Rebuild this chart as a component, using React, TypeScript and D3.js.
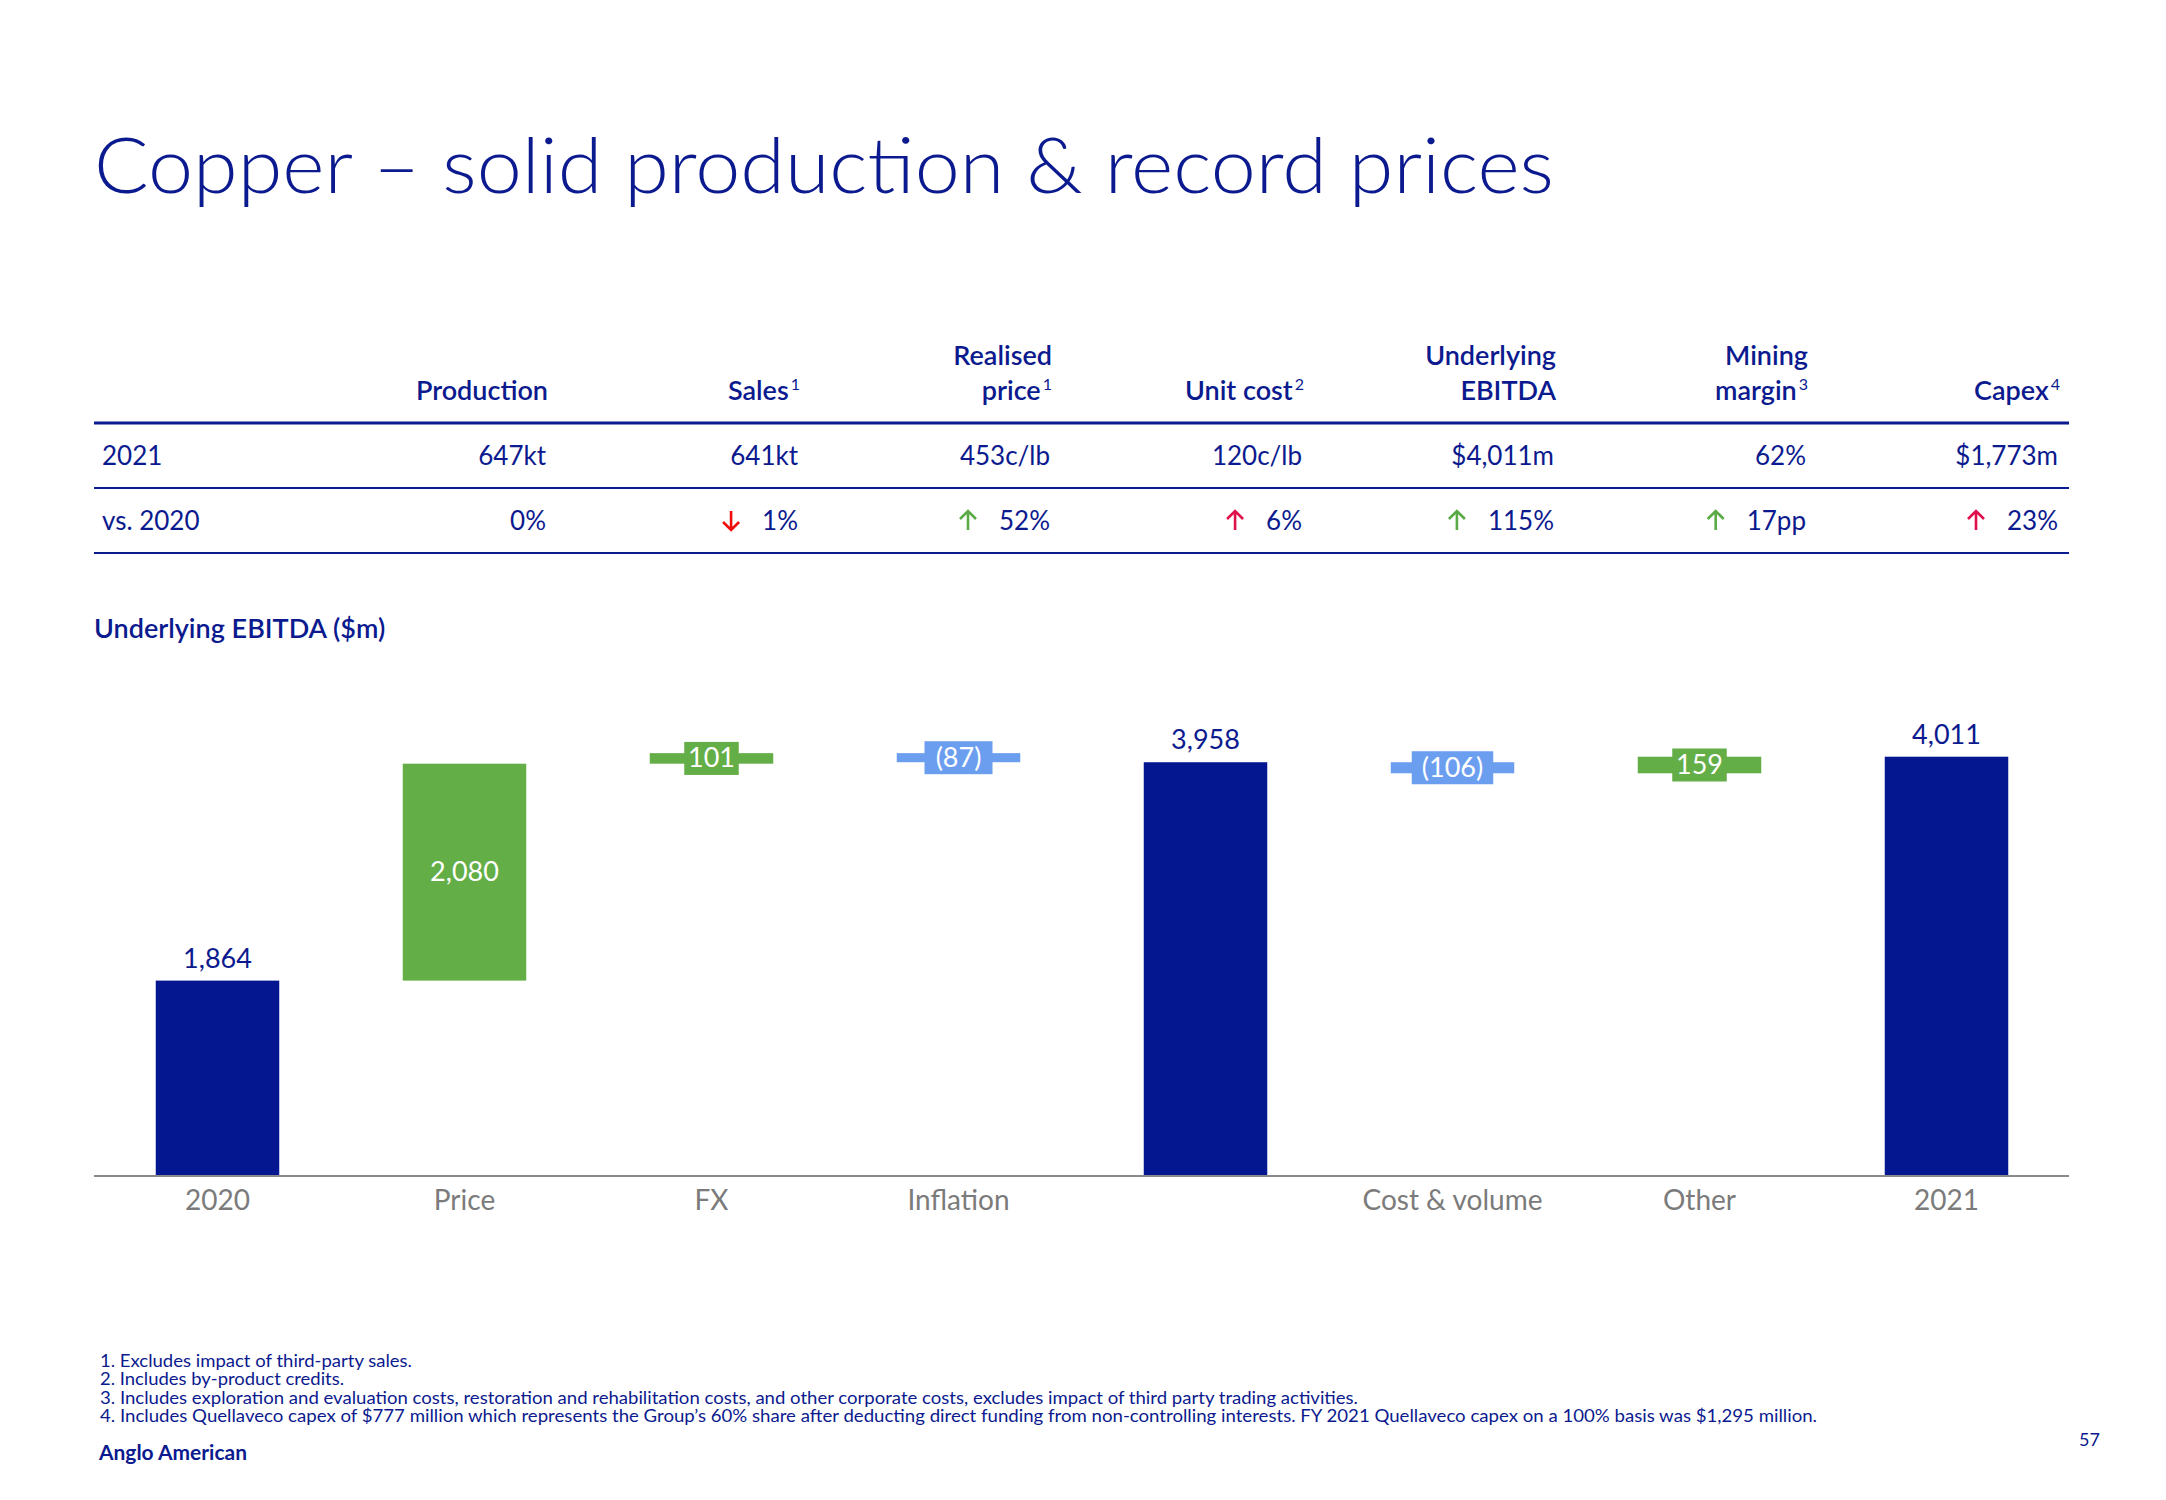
import React, { useLayoutEffect, useRef, useState } from "react";
import * as d3 from "d3";

// ---------- Data ----------
const categories = ["2020", "Price", "FX", "Inflation", "", "Cost & volume", "Other", "2021"];
const values = [1864, 2080, 101, -87, 3958, -106, 159, 4011];
const isTotal = [true, false, false, false, true, false, false, true];

const headerLine1 = ["", "", "Realised", "", "Underlying", "Mining", ""];
const headerLine2 = ["Production", "Sales", "price", "Unit cost", "EBITDA", "margin", "Capex"];
const headerNotes = ["", "1", "1", "2", "", "3", "4"];
const row2021 = ["647kt", "641kt", "453c/lb", "120c/lb", "$4,011m", "62%", "$1,773m"];
const rowVs2020 = ["0%", "1%", "52%", "6%", "115%", "17pp", "23%"];
const rowVsArrow = ["", "down", "up", "up", "up", "up", "up"];
const rowVsTone = ["", "red", "green", "crimson", "green", "green", "crimson"];

const footnotes = [
  "1. Excludes impact of third-party sales.",
  "2. Includes by-product credits.",
  "3. Includes exploration and evaluation costs, restoration and rehabilitation costs, and other corporate costs, excludes impact of third party trading activities.",
  "4. Includes Quellaveco capex of $777 million which represents the Group\u2019s 60% share after deducting direct funding from non-controlling interests. FY 2021 Quellaveco capex on a 100% basis was $1,295 million.",
];
const footnoteWidths = [312, 244, 1258, 1717];

// ---------- Styles ----------
const NAVY = "#0b1a8e";
const BAR_NAVY = "#041790";
const GREEN = "#63ae46";
const LIGHT_BLUE = "#6c9ef0";
const GRAY_TEXT = "#7b7b7b";
const AXIS_GRAY = "#8a8a8a";
const TONES: Record<string, string> = { red: "#f00d0d", green: "#5aab45", crimson: "#e0104a" };
const FONT = "Lato, 'Open Sans', sans-serif";

const fmt = d3.format(",");

function ArrowValue({ x, y, text, dir, color }: { x: number; y: number; text: string; dir: string; color: string }) {
  const ref = useRef<SVGTextElement>(null);
  const [w, setW] = useState(0);
  useLayoutEffect(() => {
    if (ref.current) setW(ref.current.getComputedTextLength());
  }, [text]);
  const ax = x - w - 31;
  const top = y - 19;
  const bot = y;
  let arrow = null;
  if (dir) {
    const tip = dir === "up" ? top : bot;
    const tail = dir === "up" ? bot : top;
    const s = dir === "up" ? 1 : -1;
    arrow = (
      <path
        d={`M${ax},${tail} L${ax},${tip} M${ax - 8},${tip + s * 8} L${ax},${tip} L${ax + 8},${tip + s * 8}`}
        stroke={color}
        strokeWidth={2.6}
        fill="none"
        strokeLinecap="butt"
        strokeLinejoin="miter"
        opacity={w ? 1 : 0}
      />
    );
  }
  return (
    <g>
      {arrow}
      <text ref={ref} x={x} y={y} textAnchor="end" fill={NAVY} fontSize={26} fontFamily={FONT}>
        {text}
      </text>
    </g>
  );
}

export default function App() {
  const W = 2166;
  const H = 1500;

  // waterfall computation
  let running = 0;
  const bars = values.map((v, i) => {
    let y0: number, y1: number;
    if (isTotal[i]) {
      y0 = 0;
      y1 = v;
      running = v;
    } else {
      y0 = running;
      y1 = running + v;
      running = y1;
    }
    return { i, v, y0, y1, total: isTotal[i], cat: categories[i] };
  });

  const x = d3
    .scaleBand<number>()
    .domain(d3.range(values.length))
    .range([94, 2070])
    .paddingInner(0.5)
    .paddingOuter(0.25);
  const y = d3.scaleLinear().domain([0, 4011]).range([1175, 756.7]);

  const col = d3.scaleLinear().domain([0, 6]).range([546, 2058]);

  const labelText = (d: any) => (d.v < 0 ? `(${fmt(-d.v)})` : fmt(d.v));
  const boxWidth = (t: string) => t.length * 13.5 + 14;

  return (
    <svg
      width={W}
      height={H}
      viewBox={`0 0 ${W} ${H}`}
      style={{ position: "absolute", left: 0, top: 0, background: "#fff" }}
    >
      <rect x={0} y={0} width={W} height={H} fill="#fff" />
      {/* Title */}
      <text
        x={94}
        y={193}
        fill={NAVY}
        fontSize={76}
        fontWeight={300}
        fontFamily={FONT}
        textLength={1460}
        lengthAdjust="spacingAndGlyphs"
      >
        Copper – solid production &amp; record prices
      </text>

      {/* Table */}
      {headerLine2.map((h, i) => (
        <g key={"h" + i}>
          {headerLine1[i] && (
            <text x={col(i) + 2} y={365} textAnchor="end" fill={NAVY} fontSize={27} fontWeight={600} fontFamily={FONT}>
              {headerLine1[i]}
            </text>
          )}
          <text x={col(i) + 2} y={400} textAnchor="end" fill={NAVY} fontSize={27} fontWeight={600} fontFamily={FONT}>
            {h}
            {headerNotes[i] && (
              <tspan dx={2} dy={-10} fontSize={16} fontWeight={400}>
                {headerNotes[i]}
              </tspan>
            )}
          </text>
        </g>
      ))}
      <line x1={94} x2={2069} y1={423} y2={423} stroke={NAVY} strokeWidth={3} />
      <line x1={94} x2={2069} y1={488} y2={488} stroke={NAVY} strokeWidth={1.8} />
      <line x1={94} x2={2069} y1={553} y2={553} stroke={NAVY} strokeWidth={1.8} />
      <text x={102} y={465} fill={NAVY} fontSize={26} fontFamily={FONT}>2021</text>
      <text x={102} y={530} fill={NAVY} fontSize={26} fontFamily={FONT}>vs. 2020</text>
      {row2021.map((t, i) => (
        <text key={"r1" + i} x={col(i)} y={465} textAnchor="end" fill={NAVY} fontSize={26} fontFamily={FONT}>
          {t}
        </text>
      ))}
      {rowVs2020.map((t, i) => (
        <ArrowValue key={"r2" + i} x={col(i)} y={530} text={t} dir={rowVsArrow[i]} color={TONES[rowVsTone[i]] || NAVY} />
      ))}

      {/* Chart subtitle */}
      <text x={94} y={638} fill={NAVY} fontSize={27} fontWeight={600} fontFamily={FONT}>
        Underlying EBITDA ($m)
      </text>

      {/* Bars */}
      {bars.map((d) => {
        const x0 = x(d.i)!;
        const bw = x.bandwidth();
        const top = y(Math.max(d.y0, d.y1));
        const bottom = y(Math.min(d.y0, d.y1));
        const fill = d.total ? BAR_NAVY : d.v >= 0 ? GREEN : LIGHT_BLUE;
        return <rect key={"b" + d.i} x={x0} y={top} width={bw} height={bottom - top} fill={fill} />;
      })}

      {/* Axis */}
      <line x1={94} x2={2069} y1={1176} y2={1176} stroke={AXIS_GRAY} strokeWidth={2} />
      {bars.map((d) => (
        <text
          key={"c" + d.i}
          x={x(d.i)! + x.bandwidth() / 2}
          y={1210}
          textAnchor="middle"
          fill={GRAY_TEXT}
          fontSize={28}
          fontFamily={FONT}
        >
          {d.cat}
        </text>
      ))}

      {/* Value labels */}
      {bars.map((d) => {
        const cx = x(d.i)! + x.bandwidth() / 2;
        const top = y(Math.max(d.y0, d.y1));
        const bottom = y(Math.min(d.y0, d.y1));
        const t = labelText(d);
        if (d.total) {
          return (
            <text key={"l" + d.i} x={cx} y={top - 13} textAnchor="middle" fill={NAVY} fontSize={27} fontFamily={FONT}>
              {t}
            </text>
          );
        }
        const cy = (top + bottom) / 2;
        const fill = d.v >= 0 ? GREEN : LIGHT_BLUE;
        if (bottom - top > 50) {
          return (
            <text key={"l" + d.i} x={cx} y={cy + 9} textAnchor="middle" fill="#fff" fontSize={27} fontFamily={FONT}>
              {t}
            </text>
          );
        }
        const bwid = boxWidth(t);
        return (
          <g key={"l" + d.i}>
            <rect x={cx - bwid / 2} y={cy - 16.5} width={bwid} height={33} fill={fill} />
            <text x={cx} y={cy + 9} textAnchor="middle" fill="#fff" fontSize={27} fontFamily={FONT}>
              {t}
            </text>
          </g>
        );
      })}

      {/* Footnotes */}
      {footnotes.map((f, i) => (
        <text
          key={"f" + i}
          x={100}
          y={1367 + i * 18.3}
          fill={NAVY}
          fontSize={17}
          fontFamily={FONT}
          textLength={footnoteWidths[i]}
          lengthAdjust="spacingAndGlyphs"
        >
          {f}
        </text>
      ))}
      <text x={99} y={1460} fill={NAVY} fontSize={20} fontWeight={700} fontFamily={FONT} textLength={148} lengthAdjust="spacingAndGlyphs">
        Anglo American
      </text>
      <text x={2100} y={1446} textAnchor="end" fill={NAVY} fontSize={18} fontFamily={FONT}>
        57
      </text>
    </svg>
  );
}
